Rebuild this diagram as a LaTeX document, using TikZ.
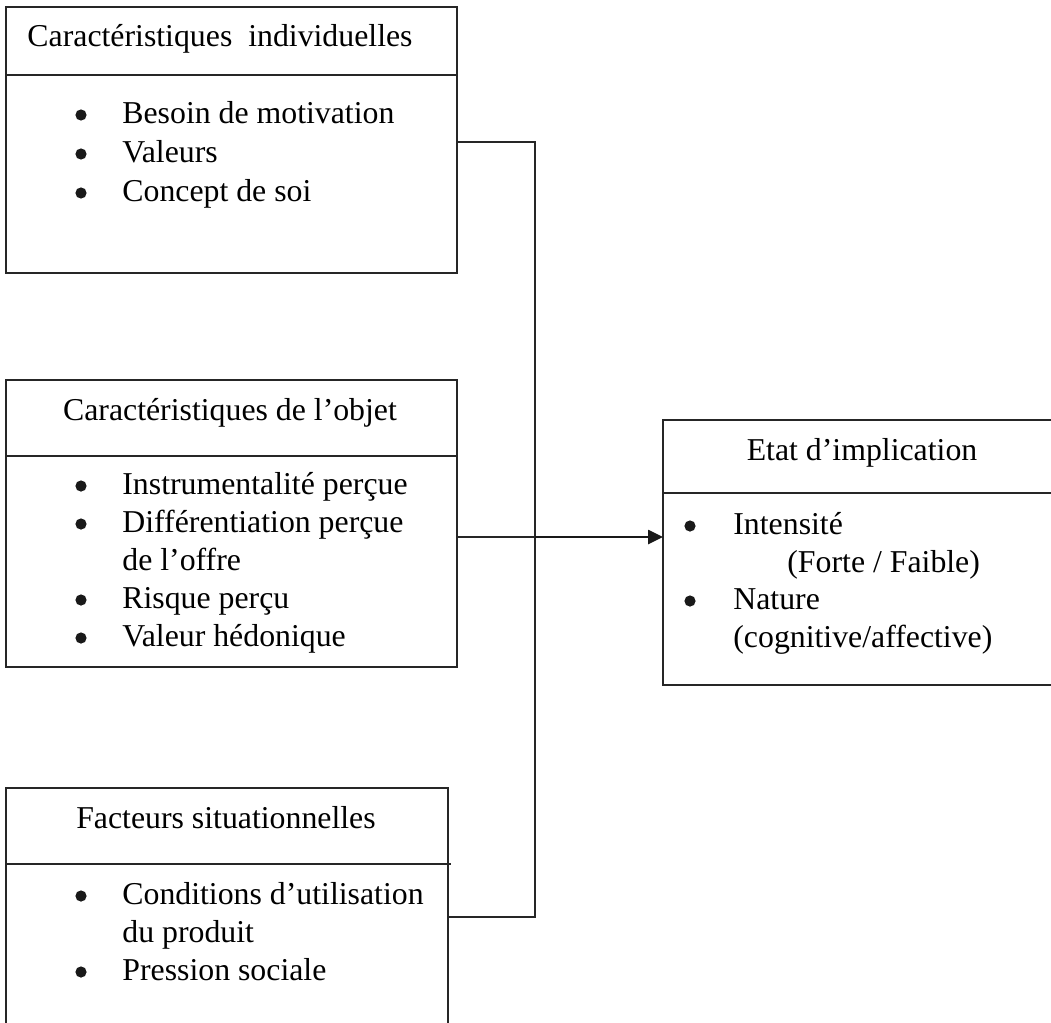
\documentclass[tikz,border=0pt]{standalone}
\usepackage{fontspec}
\setmainfont{Liberation Serif}
\usetikzlibrary{arrows.meta,calc}
\begin{document}
\begin{tikzpicture}[x=0.5pt,y=-0.5pt,
  box/.style={draw=black!85, line width=0.8pt, inner sep=0pt, outer sep=0pt, anchor=north west},
  rule/.style={draw=black!85, line width=0.8pt},
  link/.style={draw=black!85, line width=0.8pt},
  flow/.style={draw=black!90, line width=1.3pt, -{Triangle[length=7.5pt,width=7pt]}},
  head/.style={inner sep=0pt, anchor=base, font=\fontsize{15.9}{19}\selectfont},
  item/.style={inner sep=0pt, anchor=base west, font=\fontsize{15.9}{19}\selectfont},
  dot/.style={fill=black!90}
]
\clip (0,0) rectangle (1051,1023);

% frames
\node[box, minimum width=225.5pt, minimum height=133pt] (b1) at (6,7) {};
\node[box, minimum width=225.5pt, minimum height=143.5pt] (b2) at (6,380) {};
\node[box, minimum width=221pt, minimum height=150pt] (b3) at (6,788) {};
\node[box, minimum width=210pt, minimum height=132.5pt] (b4) at (663,420) {};

% header separators
\draw[rule] ($(b1.north west)+(0,68)$) -- ($(b1.north east)+(0,68)$);
\draw[rule] ($(b2.north west)+(0,76)$) -- ($(b2.north east)+(0,76)$);
\draw[rule] ($(b3.north west)+(0,76)$) -- ($(b3.north east)+(3,76)$);
\draw[rule] ($(b4.north west)+(0,73)$) -- ($(b4.north east)+(0,73)$);

% box 1
\node[head] (t1) at (220,46) {Caractéristiques\ \ individuelles};
\fill[dot] (81,115) circle (2.8pt);
\fill[dot] (81,154) circle (2.8pt);
\fill[dot] (81,193) circle (2.8pt);
\node[item] (i11) at (122,123) {Besoin de motivation};
\node[item] (i12) at (122,162) {Valeurs};
\node[item] (i13) at (122,201) {Concept de soi};

% box 2
\node[head] (t2) at (230,420) {Caractéristiques de l’objet};
\fill[dot] (81,486) circle (2.8pt);
\fill[dot] (81,524) circle (2.8pt);
\fill[dot] (81,600) circle (2.8pt);
\fill[dot] (81,638) circle (2.8pt);
\node[item] (i21) at (122,494) {Instrumentalité perçue};
\node[item] (i22) at (122,532) {Différentiation perçue};
\node[item] (i23) at (122,570) {de l’offre};
\node[item] (i24) at (122,608) {Risque perçu};
\node[item] (i25) at (122,646) {Valeur hédonique};

% box 3
\node[head] (t3) at (226,828) {Facteurs situationnelles};
\fill[dot] (81,896) circle (2.8pt);
\fill[dot] (81,972) circle (2.8pt);
\node[item] (i31) at (122,904) {Conditions d’utilisation};
\node[item] (i32) at (122,942) {du produit};
\node[item] (i33) at (122,980) {Pression sociale};

% box 4
\node[head] (t4) at (862,460) {Etat d’implication};
\fill[dot] (690,526) circle (2.8pt);
\fill[dot] (690,601) circle (2.8pt);
\node[item] (i41) at (733,534) {Intensité};
\node[item] (i42) at (787,572) {(Forte / Faible)};
\node[item] (i43) at (733,609) {Nature};
\node[item] (i44) at (733,647) {(cognitive/affective)};

% collector bus and arrow
\coordinate (bustop) at (535,142);
\coordinate (busbot) at (535,917);
\coordinate (j) at (535,537);
\draw[link] (b1.east |- bustop) -- (bustop) -- (busbot) -- (b3.east |- busbot);
\draw[link] (b2.east |- j) -- (j);
\draw[flow] (j) -- (b4.west |- j);
\end{tikzpicture}
\end{document}
